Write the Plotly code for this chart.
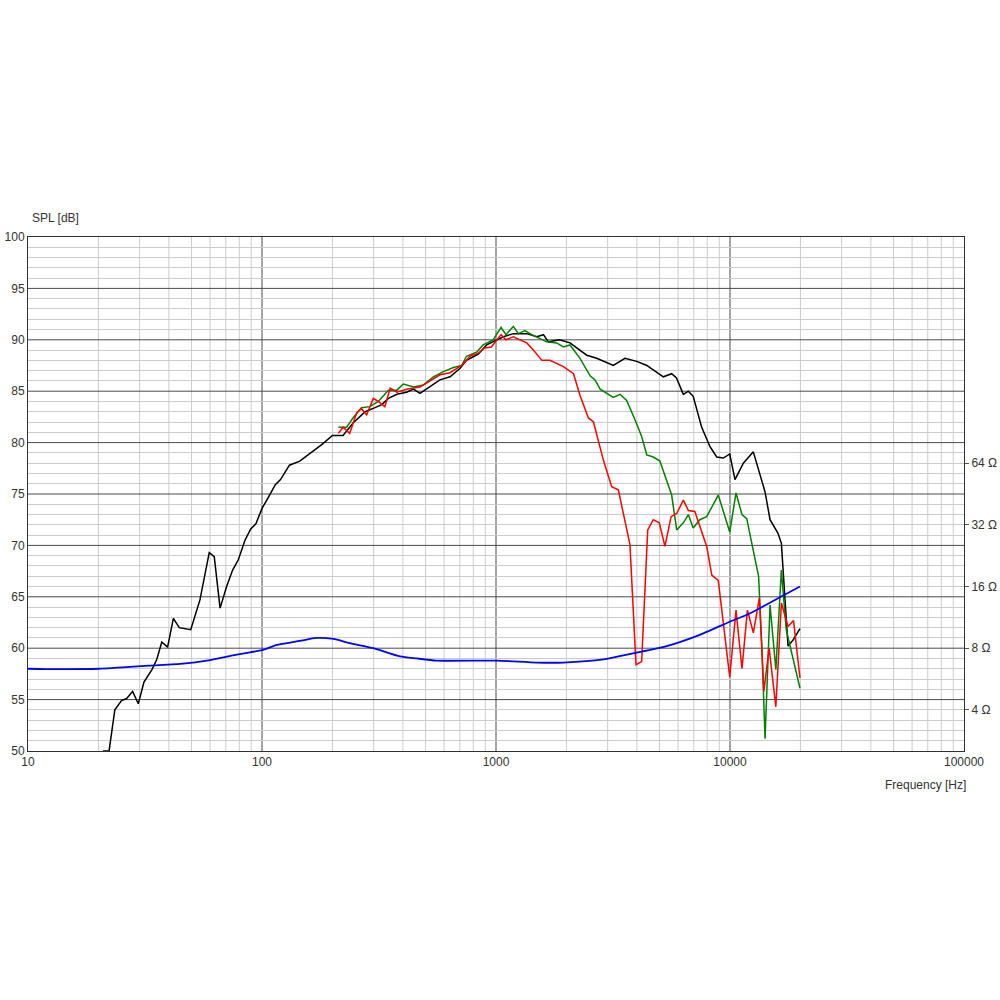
import math
import plotly.graph_objects as go

# ---------------- data ----------------
black_f = [20.9, 22.2, 23.5, 25.1, 26.4, 28.0, 29.6, 31.3, 33.8, 35.5, 37.3, 39.5, 41.8, 44.3, 49.6,
           54.3, 59.5, 62.5, 66.2, 70.6, 74.9, 79.2, 84.6, 89.5, 94.2, 100, 106, 114, 120, 131, 145,
           180, 200, 210, 222, 245, 276, 304, 325, 347, 377, 415, 444, 473, 523, 576, 636, 701, 748,
           840, 912, 1007, 1075, 1186, 1353, 1494, 1595, 1674, 1866, 2071, 2442, 2693, 3172, 3558,
           3993, 4410, 4700, 5188, 5633, 5907, 6318, 6637, 6960, 7568, 8214, 8775, 9370, 9973, 10505,
           11400, 12580, 13350, 14120, 14830, 16020, 16580, 16850, 17700, 18600, 19910]
black_db = [50.0, 50.0, 54.0, 54.9, 55.1, 55.8, 54.6, 56.7, 57.9, 58.9, 60.6, 60.1, 62.9, 62.0, 61.8,
            64.7, 69.3, 68.9, 63.9, 66.0, 67.6, 68.6, 70.5, 71.6, 72.1, 73.6, 74.6, 75.9, 76.4, 77.8, 78.2,
            79.8, 80.7, 80.7, 80.7, 81.9, 83.0, 83.4, 83.7, 84.3, 84.7, 84.9, 85.2, 84.8, 85.5, 86.1, 86.4,
            87.2, 88.0, 88.6, 89.5, 90.0, 90.3, 90.6, 90.6, 90.3, 90.5, 89.8, 90.0, 89.7, 88.5, 88.2, 87.5,
            88.2, 87.9, 87.5, 87.1, 86.4, 86.7, 86.3, 84.7, 85.0, 84.5, 81.5, 79.6, 78.6, 78.5, 78.9, 76.4,
            78.0, 79.1, 77.0, 75.2, 72.5, 71.2, 70.2, 67.9, 60.2, 60.8, 61.9]

red_f = [212, 222, 237, 254, 266, 280, 299, 314, 335, 353, 377, 415, 473, 531, 576, 636, 713, 775, 840,
         895, 955, 1051, 1103, 1186, 1353, 1445, 1570, 1701, 1941, 2144, 2285, 2483, 2610, 2876, 3122,
         3332, 3736, 3966, 4192, 4450, 4700, 4985, 5272, 5600, 5918, 6318, 6637, 7075, 7950, 8358, 8910,
         9973, 10610, 11250, 11870, 12580, 13350, 13950, 14700, 15700, 16580, 17700, 18680, 19910]
red_db = [80.9, 81.5, 80.9, 82.9, 83.3, 82.7, 84.3, 84.0, 83.5, 85.3, 84.9, 85.2, 85.4, 86.1, 86.6, 86.8,
          87.5, 88.4, 88.7, 89.2, 89.3, 90.5, 90.0, 90.3, 89.7, 89.0, 88.0, 88.0, 87.4, 86.7, 84.6, 82.4,
          82.0, 78.3, 75.7, 75.4, 70.1, 58.4, 58.7, 71.5, 72.5, 72.2, 69.9, 72.8, 73.1, 74.4, 73.4, 73.3,
          69.9, 67.1, 66.6, 57.2, 63.7, 58.0, 63.7, 61.5, 64.9, 55.8, 60.0, 54.3, 64.4, 62.1, 62.7, 57.1]

green_f = [212, 230, 245, 266, 289, 314, 347, 377, 402, 444, 489, 540, 596, 658, 713, 748, 826, 881, 972,
           1051, 1103, 1186, 1246, 1329, 1420, 1646, 1816, 1941, 2071, 2285, 2525, 2650, 2787, 3172, 3390,
           3618, 3930, 4192, 4410, 4700, 5016, 5357, 5633, 5918, 6318, 6637, 6960, 7430, 7950, 8910, 9973,
           10610, 11250, 11790, 12500, 13250, 13700, 14120, 14830, 15700, 16580, 17390, 19910]
green_db = [81.5, 81.5, 82.4, 83.4, 83.5, 84.0, 85.1, 85.1, 85.7, 85.4, 85.6, 86.4, 86.9, 87.3, 87.5, 88.4,
            88.8, 89.5, 90.0, 91.2, 90.5, 91.3, 90.6, 90.9, 90.5, 89.8, 89.7, 89.3, 89.5, 88.2, 86.5, 86.1,
            85.2, 84.4, 84.7, 84.1, 82.2, 80.6, 78.8, 78.6, 78.2, 76.4, 74.9, 71.5, 72.2, 73.0, 71.7, 72.5,
            72.8, 74.9, 71.3, 75.1, 73.0, 72.6, 69.9, 67.0, 59.8, 51.2, 64.2, 57.9, 67.6, 61.8, 56.1]

imp_f = [10, 12, 20, 33, 46, 58, 75, 89, 100, 115, 145, 171, 202, 237, 299, 389, 458, 558, 1007, 1494,
         1941, 2876, 3850, 5357, 7430, 10050, 12200, 18080, 19910]
imp_ohm = [6.35, 6.33, 6.35, 6.58, 6.73, 6.96, 7.38, 7.64, 7.82, 8.28, 8.68, 8.98, 8.88, 8.47, 8.0, 7.30,
           7.13, 6.96, 6.96, 6.81, 6.81, 7.05, 7.55, 8.19, 9.30, 10.80, 11.85, 15.10, 16.0]

x_tick_vals = [10, 100, 1000, 10000, 100000]
x_tick_text = ["10", "100", "1000", "10000", "100000"]
ohm_tick_vals = [4, 8, 16, 32, 64]
ohm_tick_text = ["4 Ω", "8 Ω", "16 Ω", "32 Ω", "64 Ω"]

# ---------------- figure ----------------
FONT = "Liberation Sans, Arial, sans-serif"
TXT = "#333333"
MAJOR = "#4a4a4a"
MINOR = "#cccccc"

fig = go.Figure()
fig.add_trace(go.Scatter(x=imp_f, y=imp_ohm, yaxis="y2", mode="lines",
                         line=dict(color="#0000ff", width=1.8, shape="spline", smoothing=0.6),
                         hoverinfo="skip", showlegend=False))
fig.add_trace(go.Scatter(x=black_f, y=black_db, mode="lines",
                         line=dict(color="#000000", width=1.5), showlegend=False))
fig.add_trace(go.Scatter(x=green_f, y=green_db, mode="lines",
                         line=dict(color="#008000", width=1.5), showlegend=False))
fig.add_trace(go.Scatter(x=red_f, y=red_db, mode="lines",
                         line=dict(color="#ff0000", width=1.5), showlegend=False))

# minor vertical grid lines (2..9 x decade)
shapes = []
for n in range(1, 5):
    for k in range(2, 10):
        f = k * 10 ** n
        shapes.append(dict(type="line", xref="x", yref="paper", x0=f, x1=f, y0=0, y1=1,
                           line=dict(color=MINOR, width=1), layer="below"))
for v in range(55, 100, 5):
    shapes.append(dict(type="line", xref="paper", yref="y", x0=0, x1=1, y0=v, y1=v,
                       line=dict(color=MAJOR, width=1), layer="below"))
for f in [100, 1000, 10000]:
    shapes.append(dict(type="line", xref="x", yref="paper", x0=f, x1=f, y0=0, y1=1,
                       line=dict(color=MAJOR, width=1), layer="below"))

fig.update_layout(
    width=1000, height=1000,
    margin=dict(l=28, r=36, t=237, b=249, autoexpand=False),
    paper_bgcolor="white", plot_bgcolor="white",
    font=dict(family=FONT, size=12, color=TXT),
    shapes=shapes,
    xaxis=dict(type="log", range=[1, 5], tickvals=x_tick_vals, ticktext=x_tick_text,
               showgrid=False, zeroline=False, showline=True, linecolor="#303030", linewidth=1,
               mirror=True, ticks="", automargin=False, tickfont=dict(size=12, color=TXT)),
    yaxis=dict(range=[50, 100], dtick=5, tick0=50, showgrid=False, zeroline=False,
               showline=True, linecolor="#303030", linewidth=1, mirror=True, ticks="",
               automargin=False,
               minor=dict(dtick=1, showgrid=True, gridcolor=MINOR, gridwidth=1),
               tickfont=dict(size=12, color=TXT)),
    yaxis2=dict(type="log", overlaying="y", side="right", automargin=False,
                range=[math.log10(8 * 2 ** (-10 / 6)), math.log10(8 * 2 ** (40 / 6))],
                tickvals=ohm_tick_vals, ticktext=ohm_tick_text, showgrid=False, zeroline=False,
                ticks="outside", ticklen=4, tickcolor="#555555", showline=False,
                tickfont=dict(size=12, color=TXT)),
    annotations=[
        dict(text="SPL [dB]", xref="paper", yref="paper", x=0.002, y=1.037,
             xanchor="left", yanchor="middle", showarrow=False, font=dict(size=12, color=TXT)),
        dict(text="Frequency [Hz]", xref="paper", yref="paper", x=1.004, y=-0.066,
             xanchor="right", yanchor="middle", showarrow=False, font=dict(size=12, color=TXT)),
    ],
)

fig.write_html("out.html",
               config={"displayModeBar": False},
               post_script="document.body.style.margin='0';document.body.style.overflow='hidden';")
